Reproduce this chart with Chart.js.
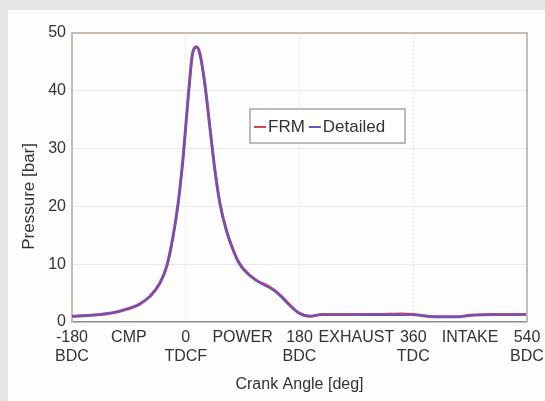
<!DOCTYPE html>
<html>
<head>
<meta charset="utf-8">
<script src="https://cdn.jsdelivr.net/npm/chart.js@4"></script>
<style>
  html, body { margin: 0; padding: 0; background: #e6e6e6; }
  #wrap { position: absolute; left: 8px; top: 10px; width: 537px; height: 391px; background: #fdfdfd; }
</style>
</head>
<body>
<div id="wrap"><canvas id="myChart" width="537" height="391"></canvas></div>
<script>
// crank angle in degrees, pressure in bar
const angles   = [-180, -146, -115, -94, -73, -57, -41, -30, -20, -12, -4, 4, 11, 17, 22, 30, 38, 46, 54, 64, 75, 83, 92, 112, 133, 148, 164, 180, 196, 216, 260, 300, 341, 360, 375, 400, 432, 450, 491, 540];
const detailed = [1.0, 1.2, 1.6, 2.2, 3.1, 4.4, 6.7, 9.6, 14.8, 20.5, 28.6, 39.0, 46.5, 47.5, 46.5, 41.3, 33.8, 26.3, 20.5, 15.9, 12.4, 10.4, 9.0, 7.1, 5.9, 4.7, 2.9, 1.5, 1.0, 1.3, 1.3, 1.25, 1.25, 1.3, 1.1, 0.9, 0.9, 1.15, 1.3, 1.3];
const frm      = [1.0, 1.2, 1.6, 2.2, 3.1, 4.4, 6.7, 9.7, 14.9, 20.6, 28.7, 39.1, 46.6, 47.6, 46.6, 41.4, 33.9, 26.4, 20.6, 16.0, 12.5, 10.5, 9.1, 7.2, 6.0, 4.8, 3.0, 1.5, 1.0, 1.3, 1.3, 1.3, 1.4, 1.3, 1.1, 0.9, 0.9, 1.15, 1.3, 1.3];

const tickValues = [-180, -90, 0, 90, 180, 270, 360, 450, 540];
const tickLabels = [["-180", "BDC"], "CMP", ["0", "TDCF"], "POWER", ["180", "BDC"], "EXHAUST", ["360", "TDC"], "INTAKE", ["540", "BDC"]];
const gridAngles = [0, 180, 360];

const font = "'Liberation Sans', Arial, sans-serif";
const textColor = "#333";

function points(values) {
    return angles.map((a, i) => ({ x: a, y: values[i] }));
}

// top and right edges of the plot frame
const framePlugin = {
    id: "frame",
    afterDraw(chart) {
        const { ctx, chartArea: a } = chart;
        ctx.save();
        ctx.strokeStyle = "#c6bcb6";
        ctx.lineWidth = 2;
        ctx.beginPath();
        ctx.moveTo(a.left, a.top);
        ctx.lineTo(a.right, a.top);
        ctx.lineTo(a.right, a.bottom);
        ctx.stroke();
        ctx.restore();
    }
};

// boxed legend sitting inside the plot
const boxLegend = {
    id: "boxLegend",
    afterDraw(chart) {
        const { ctx, chartArea: a } = chart;
        const x = a.left + 178, y = a.top + 76, w = 155, h = 34;
        ctx.save();
        ctx.fillStyle = "#fff";
        ctx.fillRect(x, y, w, h);
        ctx.strokeStyle = "#a8a2a0";
        ctx.lineWidth = 1.5;
        ctx.strokeRect(x, y, w, h);
        ctx.font = "17px " + font;
        ctx.textBaseline = "middle";
        const cy = y + h / 2 + 1;
        let cx = x + 4;
        chart.data.datasets.forEach(ds => {
            ctx.strokeStyle = ds.borderColor;
            ctx.lineWidth = 2;
            ctx.beginPath();
            ctx.moveTo(cx, cy);
            ctx.lineTo(cx + 12, cy);
            ctx.stroke();
            ctx.fillStyle = textColor;
            ctx.fillText(ds.label, cx + 14, cy);
            cx += 14 + ctx.measureText(ds.label).width + 4;
        });
        ctx.restore();
    }
};

let myChart = document.getElementById("myChart").getContext("2d");
let pressureChart = new Chart(myChart, {
    type: "line",
    data: {
        datasets: [{
            label: "FRM",
            data: points(frm),
            borderColor: "rgb(214,70,80)",
            borderWidth: 3,
            pointRadius: 0,
            tension: 0.4,
            cubicInterpolationMode: "monotone",
            order: 2
        }, {
            label: "Detailed",
            data: points(detailed),
            borderColor: "rgb(104,82,192)",
            borderWidth: 2.2,
            pointRadius: 0,
            tension: 0.4,
            cubicInterpolationMode: "monotone",
            order: 1
        }]
    },
    options: {
        responsive: false,
        animation: false,
        layout: { padding: { left: 0, right: 18, top: 23, bottom: 0 } },
        plugins: {
            legend: { display: false },
            tooltip: { enabled: false }
        },
        scales: {
            x: {
                type: "linear",
                min: -180,
                max: 540,
                afterBuildTicks: s => { s.ticks = tickValues.map(v => ({ value: v })); },
                afterFit: s => {
                    s.height = 79;
                    s.paddingLeft = 0;
                    s.paddingRight = 0;
                },
                ticks: {
                    autoSkip: false,
                    minRotation: 0,
                    maxRotation: 0,
                    padding: 6,
                    color: textColor,
                    font: { family: font, size: 16, lineHeight: 1.2 },
                    callback: (value, index) => tickLabels[index]
                },
                grid: {
                    drawTicks: false,
                    color: c => gridAngles.includes(c.tick && c.tick.value) ? "#e9e9e9" : "transparent"
                },
                border: { color: "#8e8e8e", width: 1.5, dash: [2, 2] },
                title: {
                    display: true,
                    text: "Crank Angle [deg]",
                    color: textColor,
                    font: { family: font, size: 16 },
                    padding: { top: 0, bottom: 7 }
                }
            },
            y: {
                min: 0,
                max: 50,
                afterFit: s => { s.width = 64; },
                ticks: {
                    stepSize: 10,
                    padding: 6,
                    color: textColor,
                    font: { family: font, size: 16 }
                },
                grid: {
                    drawTicks: false,
                    color: c => (c.tick.value > 0 && c.tick.value < 50) ? "#e9e9e9" : "transparent"
                },
                border: { color: "#c6bcb6", width: 2 },
                title: {
                    display: true,
                    text: "Pressure [bar]        ",
                    color: textColor,
                    font: { family: font, size: 17 },
                    padding: { top: 11, bottom: 0 }
                }
            }
        }
    },
    plugins: [framePlugin, boxLegend]
});
</script>
</body>
</html>
